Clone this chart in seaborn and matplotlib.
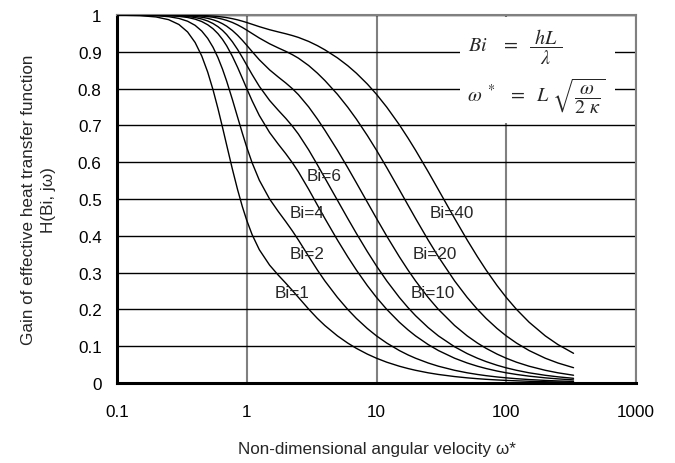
import matplotlib
matplotlib.use("Agg")
import matplotlib.pyplot as plt
import seaborn as sns
import pandas as pd
from matplotlib.patches import Rectangle
from matplotlib.ticker import FixedLocator, FixedFormatter, NullLocator

# ---- data ----
omega = [0.1, 0.15, 0.2, 0.25, 0.3, 0.35, 0.4, 0.45, 0.5, 0.55,
         0.6, 0.65, 0.7, 0.775, 0.85, 0.925, 1, 1.1, 1.25, 1.5,
         1.75, 2, 2.25, 2.5, 3, 3.5, 4, 5, 6, 7,
         8.5, 10, 12, 15, 17.5, 20, 25, 30, 40, 50,
         60, 70, 85, 100, 120, 150, 200, 250, 330]
gain_bi1 = [0.9997, 0.9983, 0.9947, 0.9873, 0.9742, 0.9539, 0.9253, 0.8886, 0.8449, 0.7964,
            0.7456, 0.6951, 0.6468, 0.5811, 0.5253, 0.4792, 0.4419, 0.4031, 0.3622, 0.3203,
            0.2931, 0.2712, 0.2513, 0.2328, 0.2008, 0.1756, 0.1562, 0.1280, 0.1085, 0.0941,
            0.0785, 0.0673, 0.0565, 0.0456, 0.0393, 0.0345, 0.0277, 0.0232, 0.0175, 0.0140,
            0.0117, 0.0100, 0.0083, 0.0070, 0.0059, 0.0047, 0.0035, 0.0028, 0.0021]
gain_bi2 = [0.9999, 0.9994, 0.9981, 0.9955, 0.9907, 0.9831, 0.9719, 0.9564, 0.9365, 0.9122,
            0.8841, 0.8531, 0.8203, 0.7703, 0.7223, 0.6788, 0.6406, 0.5984, 0.5510, 0.4999,
            0.4660, 0.4384, 0.4130, 0.3886, 0.3441, 0.3072, 0.2774, 0.2325, 0.2000, 0.1754,
            0.1481, 0.1280, 0.1085, 0.0882, 0.0763, 0.0673, 0.0544, 0.0456, 0.0345, 0.0277,
            0.0232, 0.0199, 0.0164, 0.0140, 0.0117, 0.0094, 0.0070, 0.0056, 0.0043]
gain_bi4 = [1.0000, 0.9998, 0.9993, 0.9982, 0.9963, 0.9933, 0.9887, 0.9822, 0.9735, 0.9626,
            0.9493, 0.9338, 0.9164, 0.8877, 0.8577, 0.8280, 0.8001, 0.7669, 0.7268, 0.6806,
            0.6490, 0.6230, 0.5983, 0.5739, 0.5264, 0.4838, 0.4472, 0.3885, 0.3430, 0.3068,
            0.2646, 0.2325, 0.2000, 0.1652, 0.1443, 0.1280, 0.1045, 0.0882, 0.0673, 0.0544,
            0.0456, 0.0393, 0.0325, 0.0277, 0.0232, 0.0186, 0.0140, 0.0112, 0.0085]
gain_bi6 = [1.0000, 0.9999, 0.9996, 0.9989, 0.9978, 0.9959, 0.9931, 0.9891, 0.9837, 0.9768,
            0.9683, 0.9583, 0.9468, 0.9273, 0.9063, 0.8847, 0.8638, 0.8382, 0.8061, 0.7678,
            0.7411, 0.7190, 0.6978, 0.6765, 0.6335, 0.5931, 0.5571, 0.4966, 0.4472, 0.4064,
            0.3570, 0.3180, 0.2774, 0.2325, 0.2048, 0.1829, 0.1507, 0.1280, 0.0984, 0.0799,
            0.0673, 0.0581, 0.0482, 0.0412, 0.0345, 0.0277, 0.0209, 0.0168, 0.0127]
gain_bi10 = [1.0000, 0.9999, 0.9998, 0.9994, 0.9988, 0.9977, 0.9962, 0.9939, 0.9910, 0.9870,
             0.9822, 0.9763, 0.9696, 0.9579, 0.9449, 0.9313, 0.9177, 0.9006, 0.8783, 0.8509,
             0.8314, 0.8152, 0.7996, 0.7836, 0.7503, 0.7175, 0.6868, 0.6325, 0.5852, 0.5439,
             0.4912, 0.4472, 0.3990, 0.3430, 0.3068, 0.2774, 0.2325, 0.2000, 0.1562, 0.1280,
             0.1085, 0.0941, 0.0785, 0.0673, 0.0565, 0.0456, 0.0345, 0.0277, 0.0211]
gain_bi20 = [1.0000, 1.0000, 0.9999, 0.9997, 0.9994, 0.9989, 0.9982, 0.9972, 0.9957, 0.9939,
             0.9915, 0.9887, 0.9854, 0.9797, 0.9731, 0.9661, 0.9589, 0.9497, 0.9374, 0.9218,
             0.9105, 0.9012, 0.8921, 0.8828, 0.8627, 0.8421, 0.8220, 0.7845, 0.7495, 0.7170,
             0.6725, 0.6325, 0.5852, 0.5252, 0.4833, 0.4472, 0.3885, 0.3430, 0.2774, 0.2325,
             0.2000, 0.1754, 0.1481, 0.1280, 0.1085, 0.0882, 0.0673, 0.0544, 0.0416]
gain_bi40 = [1.0000, 1.0000, 1.0000, 0.9999, 0.9997, 0.9995, 0.9991, 0.9986, 0.9979, 0.9970,
             0.9959, 0.9945, 0.9929, 0.9900, 0.9868, 0.9832, 0.9796, 0.9748, 0.9683, 0.9600,
             0.9540, 0.9490, 0.9441, 0.9391, 0.9282, 0.9168, 0.9054, 0.8835, 0.8623, 0.8418,
             0.8124, 0.7845, 0.7495, 0.7017, 0.6655, 0.6325, 0.5744, 0.5252, 0.4472, 0.3885,
             0.3430, 0.3068, 0.2646, 0.2325, 0.2000, 0.1652, 0.1280, 0.1045, 0.0807]
bi_values = [1, 2, 4, 6, 10, 20, 40]
curve_labels = ["Bi=1", "Bi=2", "Bi=4", "Bi=6", "Bi=10", "Bi=20", "Bi=40"]
x_tick_values = [0.1, 1, 10, 100, 1000]
x_tick_labels = ["0.1", "1", "10", "100", "1000"]
y_tick_values = [0, 0.1, 0.2, 0.3, 0.4, 0.5, 0.6, 0.7, 0.8, 0.9, 1.0]
y_tick_labels = ["0", "0.1", "0.2", "0.3", "0.4", "0.5", "0.6", "0.7", "0.8", "0.9", "1"]

gains = [gain_bi1, gain_bi2, gain_bi4, gain_bi6, gain_bi10, gain_bi20, gain_bi40]
frames = [pd.DataFrame({"omega": omega, "gain": g, "Bi": b}) for b, g in zip(bi_values, gains)]
df = pd.concat(frames, ignore_index=True)

# ---- style ----
sns.set_style("white")
plt.rcParams["font.family"] = ["Liberation Sans", "DejaVu Sans"]
plt.rcParams["mathtext.fontset"] = "stix"
FS = 12.3

fig = plt.figure(figsize=(6.75, 4.64), dpi=100)
ax = fig.add_axes([117 / 675, 1 - 384 / 464, 519 / 675, 368 / 464])

sns.lineplot(data=df, x="omega", y="gain", hue="Bi", units="Bi", estimator=None,
             palette=["black"] * len(bi_values), legend=False, linewidth=1.0, ax=ax,
             zorder=3)

ax.set_xscale("log")
ax.set_xlim(0.1, 1000)
ax.set_ylim(0, 1)

ax.xaxis.set_major_locator(FixedLocator(x_tick_values))
ax.xaxis.set_major_formatter(FixedFormatter(x_tick_labels))
ax.xaxis.set_minor_locator(NullLocator())
ax.yaxis.set_major_locator(FixedLocator(y_tick_values))
ax.yaxis.set_major_formatter(FixedFormatter(y_tick_labels))

ax.tick_params(axis="x", direction="in", length=4, width=1.5, color="black",
               labelsize=FS, pad=15, labelcolor="black")
ax.tick_params(axis="y", direction="out", length=3, width=1.0, color="black",
               labelsize=FS, pad=8, labelcolor="black")

# gridlines: vertical gray, horizontal black
ax.set_axisbelow(True)
ax.grid(False)
ax.xaxis.grid(True, color="#808080", linewidth=1.5)
ax.yaxis.grid(True, color="black", linewidth=1.0)

for side in ["left", "bottom"]:
    ax.spines[side].set_color("black")
    ax.spines[side].set_linewidth(2.2)
for side in ["top", "right"]:
    ax.spines[side].set_color("#808080")
    ax.spines[side].set_linewidth(1.5)
    ax.spines[side].set_visible(True)

# formula box
ax.add_patch(Rectangle((0.661, 0.707), 0.299, 0.288, transform=ax.transAxes,
                       facecolor="white", edgecolor="none", zorder=1))
ax.text(0.676, 0.916, r"$Bi\ \ \ =\ \ \dfrac{\ hL\ }{\lambda}$", transform=ax.transAxes,
        ha="left", va="center", fontsize=14.5, zorder=4)
ax.text(0.674, 0.782, r"$\omega^{\ *}\ \ =\ \ L\ \sqrt{\dfrac{\omega}{2\ \kappa}}$",
        transform=ax.transAxes, ha="left", va="center", fontsize=14.5, zorder=4)

# curve labels
label_pos = {"Bi=1": (2.24, 0.247), "Bi=2": (2.93, 0.353), "Bi=4": (2.93, 0.462),
             "Bi=6": (3.96, 0.5625), "Bi=10": (27.0, 0.247), "Bi=20": (28.0, 0.353),
             "Bi=40": (37.8, 0.462)}
for lab in curve_labels:
    x, y = label_pos[lab]
    ax.text(x, y, lab, ha="center", va="center", fontsize=FS, zorder=4)

ax.set_xlabel("Non-dimensional angular velocity ω*", fontsize=FS)
ax.xaxis.set_label_coords(0.5, -0.158)
ax.set_ylabel("Gain of effective heat transfer function\nH(Bi, jω)", fontsize=FS,
              linespacing=1.4)
ax.yaxis.set_label_coords(-0.118, 0.5)

fig.savefig("out.png", dpi=100)
